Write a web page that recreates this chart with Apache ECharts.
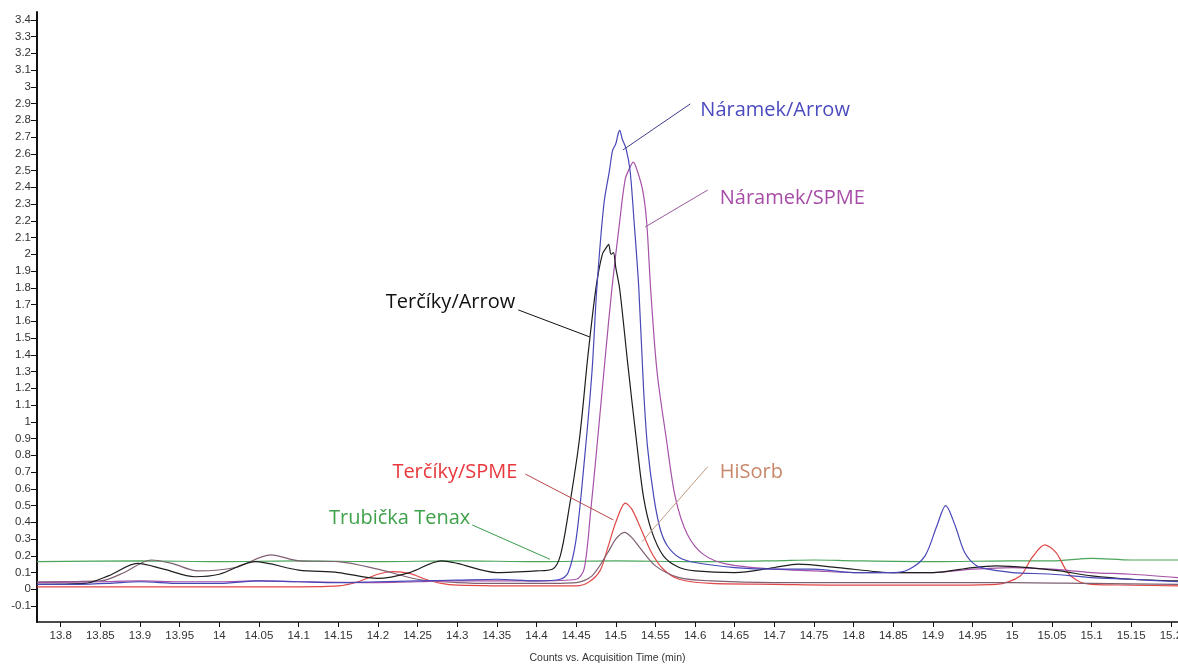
<!DOCTYPE html>
<html>
<head>
<meta charset="utf-8">
<script src="https://cdn.jsdelivr.net/npm/echarts@6/dist/echarts.min.js"></script>
<style>
html,body{margin:0;padding:0;background:#fff;}
#chart{width:1178px;height:664px;}
</style>
</head>
<body>
<div id="chart"></div>
<script>
// ---- tick labels ----
const xTicks = [13.8,13.85,13.9,13.95,14,14.05,14.1,14.15,14.2,14.25,14.3,14.35,14.4,14.45,14.5,14.55,14.6,14.65,14.7,14.75,14.8,14.85,14.9,14.95,15,15.05,15.1,15.15,15.2];
const yTicks = [-0.1,0,0.1,0.2,0.3,0.4,0.5,0.6,0.7,0.8,0.9,1,1.1,1.2,1.3,1.4,1.5,1.6,1.7,1.8,1.9,2,2.1,2.2,2.3,2.4,2.5,2.6,2.7,2.8,2.9,3,3.1,3.2,3.3,3.4];

// ---- series (time in min, response) ----
const tNaramekArrow = [13.77,13.82,13.86,13.9,13.95,14.0,14.05,14.1,14.15,14.2,14.25,14.3,14.35,14.4,14.43,14.44,14.45,14.46,14.47,14.476,14.485,14.492,14.496,14.5,14.503,14.505,14.508,14.513,14.518,14.523,14.529,14.535,14.54,14.548,14.556,14.565,14.58,14.6,14.65,14.7,14.75,14.8,14.85,14.87,14.89,14.905,14.916,14.928,14.94,14.955,14.97,15.0,15.05,15.1,15.15,15.209];
const vNaramekArrow = [0.03,0.03,0.035,0.045,0.035,0.035,0.05,0.045,0.04,0.045,0.05,0.055,0.06,0.05,0.06,0.1,0.3,0.75,1.3,1.79,2.3,2.5,2.62,2.66,2.72,2.74,2.69,2.63,2.5,2.2,1.8,1.2,0.85,0.55,0.36,0.26,0.19,0.16,0.13,0.12,0.12,0.1,0.1,0.12,0.2,0.38,0.5,0.38,0.22,0.14,0.12,0.1,0.09,0.07,0.06,0.045];

const tNaramekSPME = [13.77,13.85,13.9,13.95,14.0,14.05,14.1,14.2,14.3,14.35,14.4,14.45,14.46,14.468,14.477,14.487,14.495,14.505,14.512,14.518,14.522,14.527,14.534,14.539,14.544,14.552,14.564,14.575,14.59,14.61,14.64,14.7,14.75,14.8,14.85,14.9,14.95,15.0,15.05,15.1,15.15,15.209];
const vNaramekSPME = [0.04,0.045,0.05,0.045,0.045,0.05,0.045,0.04,0.05,0.05,0.05,0.06,0.12,0.45,0.89,1.4,1.79,2.2,2.45,2.52,2.55,2.5,2.38,2.19,1.79,1.3,0.89,0.55,0.33,0.21,0.15,0.12,0.11,0.1,0.1,0.1,0.12,0.13,0.12,0.1,0.09,0.07];

const tTercikyArrow = [13.77,13.83,13.86,13.897,13.93,13.969,14.0,14.045,14.1,14.15,14.2,14.24,14.28,14.3,14.35,14.4,14.42,14.43,14.44,14.454,14.465,14.475,14.483,14.488,14.491,14.494,14.497,14.5,14.505,14.515,14.526,14.535,14.545,14.56,14.58,14.6,14.65,14.7,14.73,14.78,14.85,14.9,14.95,14.98,15.02,15.06,15.1,15.15,15.209];
const vTercikyArrow = [0.03,0.035,0.08,0.155,0.12,0.075,0.09,0.165,0.115,0.1,0.065,0.1,0.17,0.155,0.1,0.11,0.12,0.2,0.45,0.89,1.4,1.8,2.0,2.04,2.06,2.0,2.01,1.92,1.79,1.35,0.89,0.55,0.35,0.2,0.13,0.11,0.1,0.13,0.15,0.13,0.1,0.1,0.13,0.14,0.13,0.11,0.08,0.06,0.05];

const tTercikySPME = [13.77,14.0,14.1,14.15,14.175,14.2,14.219,14.24,14.26,14.28,14.3,14.4,14.45,14.465,14.48,14.49,14.5,14.512,14.52,14.53,14.545,14.56,14.58,14.62,14.7,14.8,14.9,14.98,15.01,15.025,15.041,15.055,15.07,15.085,15.1,15.15,15.209];
const vTercikySPME = [0.015,0.015,0.015,0.02,0.045,0.09,0.105,0.095,0.06,0.035,0.025,0.02,0.02,0.04,0.11,0.25,0.4,0.515,0.48,0.38,0.22,0.12,0.06,0.035,0.03,0.025,0.025,0.03,0.08,0.19,0.265,0.22,0.1,0.045,0.03,0.025,0.02];

const tHiSorb = [13.77,13.85,13.88,13.914,13.94,13.973,14.02,14.065,14.1,14.15,14.2,14.25,14.3,14.35,14.4,14.45,14.47,14.49,14.5,14.511,14.52,14.53,14.55,14.58,14.62,14.7,14.8,14.9,15.0,15.1,15.209];
const vHiSorb = [0.045,0.05,0.1,0.175,0.155,0.11,0.13,0.205,0.17,0.165,0.12,0.06,0.04,0.035,0.035,0.04,0.08,0.22,0.3,0.34,0.31,0.25,0.14,0.07,0.05,0.04,0.04,0.04,0.04,0.035,0.03];

const tTenax = [13.77,13.9,14.0,14.1,14.2,14.3,14.4,14.5,14.6,14.7,14.75,14.8,14.9,15.0,15.05,15.1,15.15,15.209];
const vTenax = [0.165,0.17,0.165,0.17,0.165,0.17,0.165,0.17,0.165,0.17,0.175,0.17,0.165,0.17,0.17,0.185,0.175,0.175];

function pairs(t, v){ return t.map((x,i)=>[x, v[i]]); }

const seriesDefs = [
  {name:'Trubička Tenax', t:tTenax, v:vTenax, color:'#4aa55a'},
  {name:'Terčíky/SPME', t:tTercikySPME, v:vTercikySPME, color:'#e04848'},
  {name:'HiSorb', t:tHiSorb, v:vHiSorb, color:'#7e5f72'},
  {name:'Náramek/SPME', t:tNaramekSPME, v:vNaramekSPME, color:'#a552a8'},
  {name:'Terčíky/Arrow', t:tTercikyArrow, v:vTercikyArrow, color:'#1e1e1e'},
  {name:'Náramek/Arrow', t:tNaramekArrow, v:vNaramekArrow, color:'#4747b8'}
];

const chart = echarts.init(document.getElementById('chart'), null, {renderer:'canvas'});
const fmt = v => String(+(+v).toFixed(2));
const axisFont = {fontFamily:'Liberation Sans', fontSize:11.5, color:'#333'};

chart.setOption({
  animation:false,
  backgroundColor:'#fff',
  grid:{left:37, right:0, top:12, bottom:42, containLabel:false, outerBoundsMode:'none'},
  xAxis:{
    type:'value', min:13.7701, max:15.209,
    name:'Counts vs. Acquisition Time (min)', nameLocation:'middle', nameGap:31,
    nameTextStyle:{fontFamily:'Liberation Sans', fontSize:10.5, color:'#333'},
    axisLine:{show:true, onZero:false, lineStyle:{color:'#111', width:1.5}},
    axisTick:{show:true, length:5, customValues:xTicks, lineStyle:{color:'#111'}},
    axisLabel:Object.assign({customValues:xTicks, formatter:fmt, margin:8, showMinLabel:true, showMaxLabel:true, hideOverlap:false}, axisFont),
    splitLine:{show:false}
  },
  yAxis:{
    type:'value', min:-0.1952, max:3.4466,
    axisLine:{show:true, onZero:false, lineStyle:{color:'#111', width:2}},
    axisTick:{show:true, length:6, customValues:yTicks, lineStyle:{color:'#111'}},
    axisLabel:Object.assign({customValues:yTicks, formatter:fmt, margin:6, hideOverlap:false}, axisFont),
    splitLine:{show:false}
  },
  series: seriesDefs.map(s => ({
    name:s.name, type:'line', data:pairs(s.t, s.v),
    showSymbol:false, smooth:0.3, clip:true,
    lineStyle:{color:s.color, width:1.2}, itemStyle:{color:s.color}
  }))
});

// ---- annotations (data coordinates) ----
const notes = [
  {text:'Náramek/Arrow', from:[14.594,2.898], to:[14.509,2.623], color:'#4b4bbf', line:'#3d3d8a', dx:10, dy:6, align:'left'},
  {text:'Náramek/SPME', from:[14.616,2.384], to:[14.537,2.163], color:'#a64ca6', line:'#9a5a9a', dx:12, dy:8, align:'left'},
  {text:'Terčíky/Arrow', from:[14.377,1.668], to:[14.467,1.507], color:'#111', line:'#111', dx:-3, dy:-8, align:'right'},
  {text:'Terčíky/SPME', from:[14.386,0.688], to:[14.497,0.414], color:'#e8383d', line:'#b84848', dx:-8, dy:-2, align:'right'},
  {text:'HiSorb', from:[14.616,0.732], to:[14.533,0.284], color:'#c8876a', line:'#c09a80', dx:12, dy:6, align:'left'},
  {text:'Trubička Tenax', from:[14.319,0.384], to:[14.417,0.179], color:'#3fa14a', line:'#3a9a4a', dx:-2, dy:-7, align:'right'}
];
const g = [];
notes.forEach(n => {
  const a = chart.convertToPixel({gridIndex:0}, n.from);
  const b = chart.convertToPixel({gridIndex:0}, n.to);
  g.push({type:'line', shape:{x1:a[0], y1:a[1], x2:b[0], y2:b[1]}, style:{stroke:n.line, lineWidth:1}, z:100});
  g.push({type:'text', x:a[0]+n.dx, y:a[1]+n.dy, style:{text:n.text, fill:n.color, font:'20px "Open Sans"', align:n.align, verticalAlign:'middle'}, z:100});
});
chart.setOption({graphic:g});
</script>
</body>
</html>
